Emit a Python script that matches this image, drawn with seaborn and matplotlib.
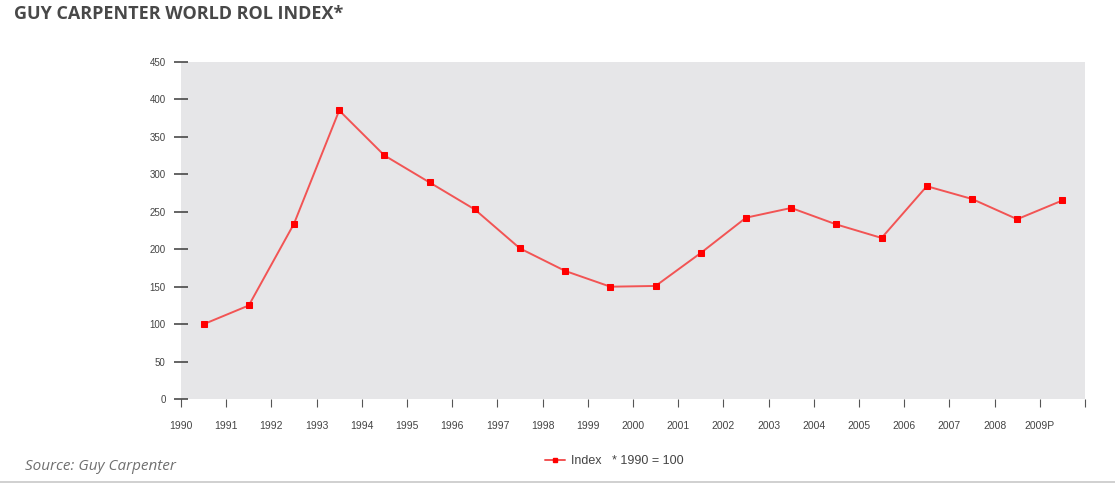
import numpy as np
import pandas as pd
import matplotlib
matplotlib.use("Agg")
import matplotlib.pyplot as plt
import seaborn as sns
from matplotlib.lines import Line2D

# ---- data ----
years = ["1990", "1991", "1992", "1993", "1994", "1995", "1996", "1997", "1998", "1999",
         "2000", "2001", "2002", "2003", "2004", "2005", "2006", "2007", "2008", "2009P"]
index_values = [100, 125, 234, 385, 325, 289, 253, 201, 171, 150,
                151, 195, 242, 255, 233, 215, 284, 267, 240, 265]
y_ticks = [0, 50, 100, 150, 200, 250, 300, 350, 400, 450]

sns.set_theme(style="white")
plt.rcParams['font.family'] = ['Liberation Sans', 'DejaVu Sans']

W, H = 1115, 483
fig = plt.figure(figsize=(W / 100, H / 100), dpi=100)
ax = fig.add_axes([181 / W, 1 - 399.2 / H, (1085 - 181) / W, (399.2 - 61.7) / H])
ax.set_facecolor("#e6e6e8")

line_color = "#f25454"
df = pd.DataFrame({"pos": np.arange(len(years)) + 0.5, "value": index_values})
sns.lineplot(data=df, x="pos", y="value", ax=ax, color=line_color, linewidth=1.4,
             marker="s", markersize=4, markerfacecolor="#ff0000",
             markeredgecolor="#ff0000", legend=False)

ax.set_xlim(0, len(years))
ax.set_ylim(0, 450)
ax.set_xticks(np.arange(len(years) + 1))
ax.set_xticklabels(years + [""])
ax.set_yticks(y_ticks)
ax.set_yticklabels([str(v) for v in y_ticks])
ax.set_xlabel("")
ax.set_ylabel("")
for s in ax.spines.values():
    s.set_visible(False)

ax.tick_params(axis="y", direction="inout", length=10, width=1.1, color="#3a3a3a",
               labelsize=7, labelcolor="#444444", pad=6, left=True)
ax.tick_params(axis="x", direction="out", length=6, width=0.8, color="#555555",
               labelsize=7.5, labelcolor="#444444", pad=10, bottom=True)
ax.grid(False)

# title
fig.text(14 / W, 1 - 14 / H, "GUY CARPENTER WORLD ROL INDEX*", fontsize=13,
         fontweight="bold", color="#484848", va="center", ha="left",
         family=["Open Sans", "DejaVu Sans"])

# source
fig.text(25 / W, 1 - 467 / H, "Source: Guy Carpenter", fontsize=11, style="italic",
         color="#707070", va="center", ha="left", family=["Open Sans", "DejaVu Sans"])

# legend
handle = Line2D([], [], color=line_color, linewidth=1.4, marker="s", markersize=3.5,
                markerfacecolor="#ff0000", markeredgecolor="#ff0000")
fig.legend([handle], ["Index   * 1990 = 100"], loc="center left",
           bbox_to_anchor=(545 / W, 1 - 461 / H), frameon=False, fontsize=9,
           handlelength=1.6, handletextpad=0.5, borderpad=0, borderaxespad=0,
           labelcolor="#444444")

# bottom rule
fig.add_artist(Line2D([0, 1], [1 - 481.5 / H, 1 - 481.5 / H], transform=fig.transFigure,
                      color="#c8c8c8", linewidth=1.2))

fig.savefig("out.png", dpi=100, facecolor="white")
